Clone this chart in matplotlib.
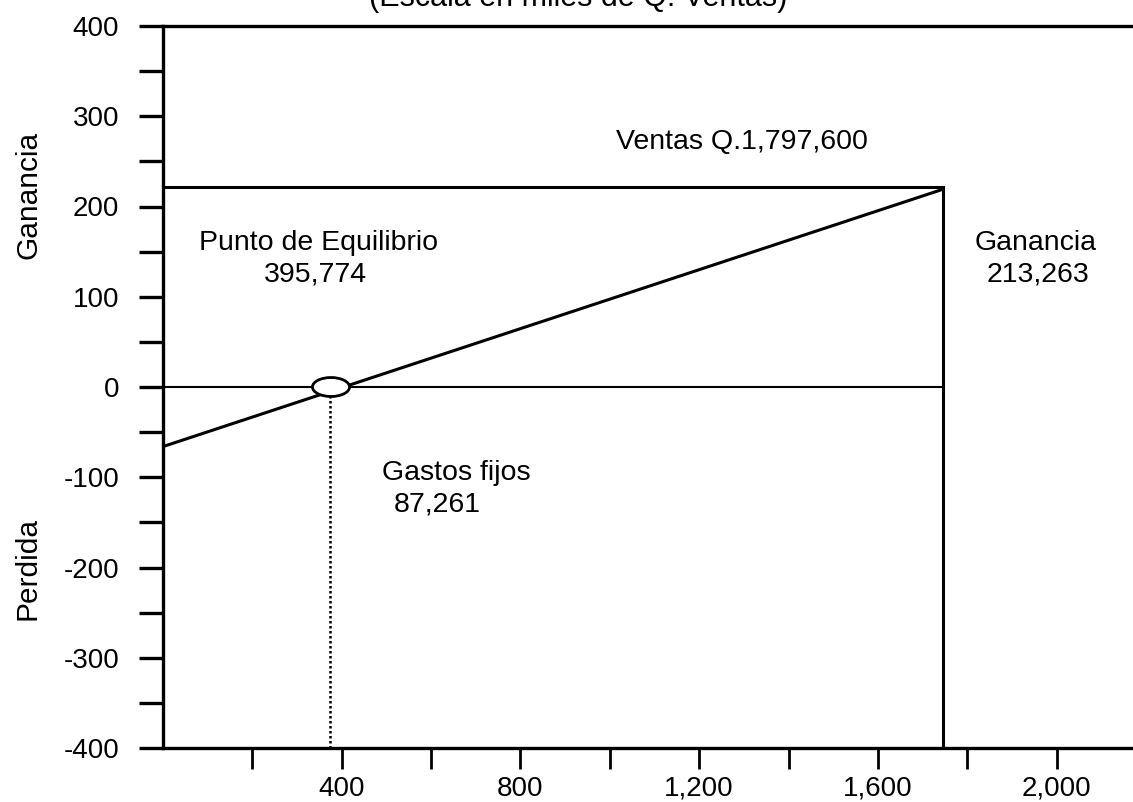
import matplotlib
matplotlib.use("Agg")
import matplotlib.pyplot as plt
from matplotlib.patches import Ellipse
from matplotlib.ticker import FixedLocator, FuncFormatter

plt.rcParams['font.family'] = ['Liberation Sans', 'DejaVu Sans']

# ---- data (in thousands of Q.) ----
profit_x = [0, 1745]
profit_y = [-66, 219]
sales_x = 1745
sales_level = 222
break_even_x = 376
x_major = [400, 800, 1200, 1600, 2000]
x_minor = [200, 600, 1000, 1400, 1800]
y_major = [-400, -300, -200, -100, 0, 100, 200, 300, 400]
y_minor = [-350, -250, -150, -50, 50, 150, 250, 350]
title_text = "(Escala en miles de Q. Ventas)"
label_sales = "Ventas Q.1,797,600"
label_be = ["Punto de Equilibrio", "395,774"]
label_profit = ["Ganancia", "213,263"]
label_fixed = ["Gastos fijos", "87,261"]

W, H = 1133, 802
fig = plt.figure(figsize=(W / 100, H / 100), dpi=100)
ax = fig.add_axes([163 / W, 1 - 748 / H, 1 - 163 / W, (748 - 26) / H])
ax.set_xlim(0, 2171)
ax.set_ylim(-400, 400)

for s in ['left', 'bottom', 'top']:
    ax.spines[s].set_linewidth(2.4)
ax.spines['right'].set_visible(False)

ax.yaxis.set_major_locator(FixedLocator(y_major))
ax.yaxis.set_minor_locator(FixedLocator(y_minor))
ax.xaxis.set_major_locator(FixedLocator(x_major))
ax.xaxis.set_minor_locator(FixedLocator(x_minor))
ax.xaxis.set_major_formatter(FuncFormatter(lambda v, p: f"{int(v):,}"))
ax.yaxis.set_major_formatter(FuncFormatter(lambda v, p: f"{int(v)}"))

ax.tick_params(axis='y', which='both', direction='out', length=17.5, width=2.4,
               labelsize=20, pad=14)
ax.tick_params(axis='x', which='both', direction='out', length=15, width=2.0,
               labelsize=20, pad=5)

# lines
ax.plot(profit_x, profit_y, color='black', lw=2.2, zorder=3)
ax.plot([0, sales_x], [0, 0], color='black', lw=1.5, zorder=2)
ax.plot([0, sales_x], [sales_level, sales_level], color='black', lw=2.2, zorder=2)
ax.plot([sales_x, sales_x], [-400, sales_level], color='black', lw=2.2, zorder=2)
ax.plot([break_even_x - 3, break_even_x - 3], [-400, -10], color='black', lw=1.8,
        linestyle=(0, (1, 1)), zorder=2)
ax.add_patch(Ellipse((break_even_x, 0), 83, 21, facecolor='white',
                     edgecolor='black', lw=2.0, zorder=4))

# annotations
fs = 20.5
ax.text(1296, 271, label_sales, ha='center', va='center', fontsize=fs)
ax.text(349, 160, label_be[0], ha='center', va='center', fontsize=fs)
ax.text(342, 125, label_be[1], ha='center', va='center', fontsize=fs)
ax.text(1952, 160, label_profit[0], ha='center', va='center', fontsize=fs)
ax.text(1958, 125, label_profit[1], ha='center', va='center', fontsize=fs)
ax.text(656, -95, label_fixed[0], ha='center', va='center', fontsize=fs)
ax.text(613, -130, label_fixed[1], ha='center', va='center', fontsize=fs)

# axis side labels
fig.text(28 / W, 1 - 195 / H, "Ganancia", rotation=90, ha='center', va='center', fontsize=21.5)
fig.text(28 / W, 1 - 568 / H, "Perdida", rotation=90, ha='center', va='center', fontsize=21.5)

# partially clipped title (cut by the top edge, as in the original)
fig.text(578 / W, 1 - 6 / H, title_text, ha='center', va='baseline', fontsize=22)

fig.savefig("out.png", dpi=100)
